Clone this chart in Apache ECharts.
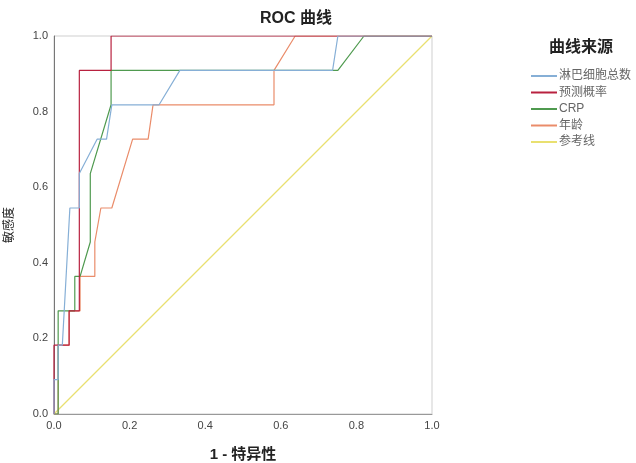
<!DOCTYPE html>
<html>
<head>
<meta charset="utf-8">
<script src="https://cdn.jsdelivr.net/npm/echarts@6/dist/echarts.min.js"></script>
<style>
html, body { margin: 0; padding: 0; background: #fff; }
#chart { width: 636px; height: 463px; }
</style>
</head>
<body>
<div id="chart"></div>
<script>
// ROC 曲线数据 [1-特异性, 敏感度]
var seriesNames = ['淋巴细胞总数', '预测概率', 'CRP', '年龄', '参考线'];
var lymphData = [[0, 0], [0, 0.091], [0.011, 0.091], [0.011, 0.182], [0.022, 0.182], [0.042, 0.545], [0.067, 0.545], [0.067, 0.636], [0.114, 0.727], [0.139, 0.727], [0.153, 0.818], [0.278, 0.818], [0.333, 0.909], [0.737, 0.909], [0.751, 1], [1, 1]];
var probData = [[0, 0], [0, 0.182], [0.04, 0.182], [0.04, 0.273], [0.067, 0.273], [0.067, 0.909], [0.151, 0.909], [0.151, 1], [1, 1]];
var crpData = [[0, 0], [0.011, 0], [0.011, 0.273], [0.055, 0.273], [0.055, 0.364], [0.069, 0.364], [0.096, 0.455], [0.096, 0.636], [0.151, 0.818], [0.151, 0.909], [0.751, 0.909], [0.82, 1], [1, 1]];
var ageData = [[0, 0], [0.011, 0], [0.011, 0.182], [0.04, 0.182], [0.04, 0.273], [0.069, 0.273], [0.069, 0.364], [0.108, 0.364], [0.108, 0.455], [0.124, 0.545], [0.153, 0.545], [0.208, 0.727], [0.249, 0.727], [0.262, 0.818], [0.582, 0.818], [0.582, 0.909], [0.638, 1], [1, 1]];
var refData = [[0, 0], [1, 1]];
var colors = ['#86afd6', '#b8213f', '#4f9a4f', '#ea8c6a', '#e9e070'];

var chart = echarts.init(document.getElementById('chart'));
var allData = [lymphData, probData, crpData, ageData, refData];
var series = [];
for (var i = 0; i < seriesNames.length; i++) {
	series.push({
		name: seriesNames[i],
		type: 'line',
		data: allData[i],
		symbol: 'none',
		animation: false,
		lineStyle: { width: 1.2, color: colors[i] },
		itemStyle: { color: colors[i] },
		z: i == 4 ? 1 : 5 - i
	});
}

var option = {
	backgroundColor: '#fff',
	title: {
		text: 'ROC 曲线',
		left: 291,
		top: 6,
		textAlign: 'center',
		textStyle: { fontSize: 16, fontWeight: 'bold', color: '#222', fontFamily: 'Arial, "Noto Sans CJK SC"' }
	},
	legend: {
		orient: 'vertical',
		left: 526,
		top: 65,
		itemWidth: 26,
		itemHeight: 2,
		itemGap: 4.5,
		icon: 'rect',
		data: seriesNames,
		textStyle: { fontSize: 12, color: '#666', fontFamily: 'Arial, "Noto Sans CJK SC"', padding: [0, 0, 0, -3] }
	},
	graphic: [{
		type: 'text',
		left: 549,
		top: 38,
		style: { text: '曲线来源', font: 'bold 16px "Noto Sans CJK SC"', fill: '#222' }
	}],
	grid: {
		left: 54, right: 204, top: 36, bottom: 49,
		outerBoundsMode: 'none',
		containLabel: false,
		show: true,
		borderColor: '#cfcfcf',
		borderWidth: 1
	},
	xAxis: {
		type: 'value',
		min: 0, max: 1, interval: 0.2,
		name: '1 - 特异性',
		nameLocation: 'middle',
		nameGap: 33,
		nameTextStyle: { fontSize: 15, fontWeight: 'bold', color: '#222', fontFamily: 'Arial, "Noto Sans CJK SC"' },
		axisLine: { show: true, lineStyle: { color: '#999' } },
		axisTick: { show: false },
		splitLine: { show: false },
		axisLabel: {
			formatter: function(v) { return v.toFixed(1); },
			fontSize: 11, color: '#444', margin: 6, fontFamily: 'Arial'
		}
	},
	yAxis: {
		type: 'value',
		min: 0, max: 1, interval: 0.2,
		name: '敏感度',
		nameLocation: 'middle',
		nameGap: 40,
		nameRotate: 90,
		nameTextStyle: { fontSize: 12, color: '#222', fontFamily: '"Noto Sans CJK SC"' },
		axisLine: { show: true, lineStyle: { color: '#777' } },
		axisTick: { show: false },
		splitLine: { show: false },
		axisLabel: {
			formatter: function(v) { return v.toFixed(1); },
			fontSize: 11, color: '#444', margin: 6, fontFamily: 'Arial'
		}
	},
	series: series
};
chart.setOption(option);
</script>
</body>
</html>
